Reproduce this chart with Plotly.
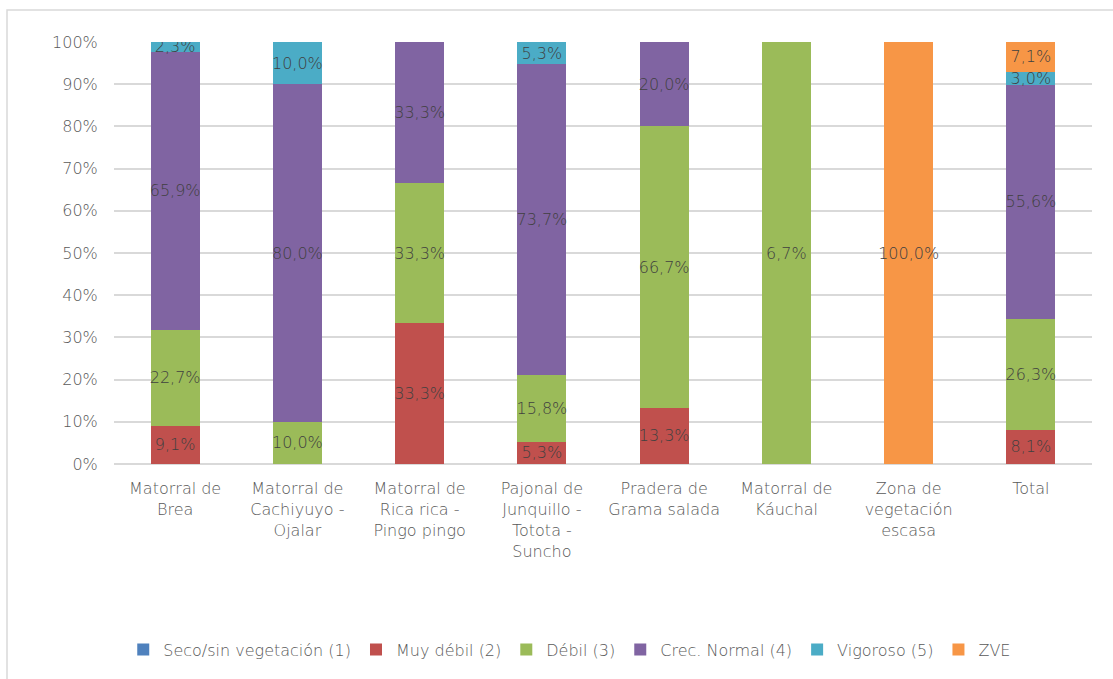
import plotly.graph_objects as go

categories = [
    "Matorral de<br>Brea",
    "Matorral de<br>Cachiyuyo -<br>Ojalar",
    "Matorral de<br>Rica rica -<br>Pingo pingo",
    "Pajonal de<br>Junquillo -<br>Totota -<br>Suncho",
    "Pradera de<br>Grama salada",
    "Matorral de<br>Káuchal",
    "Zona de<br>vegetación<br>escasa",
    "Total",
]

seco = [None, None, None, None, None, None, None, None]
muy_debil = [9.1, None, 33.3, 5.3, 13.3, None, None, 8.1]
debil = [22.7, 10.0, 33.3, 15.8, 66.7, 6.7, None, 26.3]
crec_normal = [65.9, 80.0, 33.3, 73.7, 20.0, None, None, 55.6]
vigoroso = [2.3, 10.0, None, 5.3, None, None, None, 3.0]
zve = [None, None, None, None, None, None, 100.0, 7.1]

series = [
    ("Seco/sin vegetación (1)", seco, "#4F81BD"),
    ("Muy débil (2)", muy_debil, "#C0504D"),
    ("Débil (3)", debil, "#9BBB59"),
    ("Crec. Normal (4)", crec_normal, "#8064A2"),
    ("Vigoroso (5)", vigoroso, "#4BACC6"),
    ("ZVE", zve, "#F79646"),
]

FONT = "DejaVu Sans"


def fmt(v):
    if v is None:
        return ""
    return f"{v:.1f}".replace(".", ",") + "%"


fig = go.Figure()
for name, vals, color in series:
    fig.add_trace(go.Bar(
        name=name,
        x=categories,
        y=[0 if v is None else v for v in vals],
        text=[fmt(v) for v in vals],
        textposition="inside",
        insidetextanchor="middle",
        constraintext="none",
        textangle=0,
        textfont=dict(family=FONT, size=16, color="#404040", weight=300),
        marker=dict(color=color, line=dict(width=0)),
        width=0.4,
    ))

fig.update_layout(
    barmode="stack",
    barnorm="percent",
    width=1113,
    height=679,
    margin=dict(l=114, r=21, t=42, b=215),
    paper_bgcolor="white",
    plot_bgcolor="white",
    font=dict(family=FONT, size=16, color="#595959", weight=300),
    showlegend=True,
    legend=dict(
        orientation="h",
        x=0.466, xanchor="center",
        y=-0.44, yanchor="middle",
        font=dict(family=FONT, size=16, color="#595959", weight=300),
        itemwidth=30,
        traceorder="normal",
    ),
    xaxis=dict(
        showgrid=False,
        showline=False,
        ticks="outside",
        ticklen=10,
        tickcolor="rgba(0,0,0,0)",
        tickfont=dict(family=FONT, size=16, color="#595959", weight=300),
    ),
    yaxis=dict(
        range=[0, 100],
        dtick=10,
        ticksuffix="%",
        showgrid=True,
        gridcolor="#D9D9D9",
        gridwidth=1.5,
        zeroline=True,
        zerolinecolor="#D9D9D9",
        zerolinewidth=1.5,
        ticks="outside",
        ticklen=12,
        tickcolor="rgba(0,0,0,0)",
        tickfont=dict(family=FONT, size=16, color="#595959", weight=300),
    ),
    shapes=[dict(
        type="rect", xref="paper", yref="paper",
        x0=-0.1094, x1=1.2, y0=-0.7, y1=1.0758,
        line=dict(color="#D9D9D9", width=1.5),
        fillcolor="rgba(0,0,0,0)",
        layer="below",
    )],
)

fig.write_html("out.html")
